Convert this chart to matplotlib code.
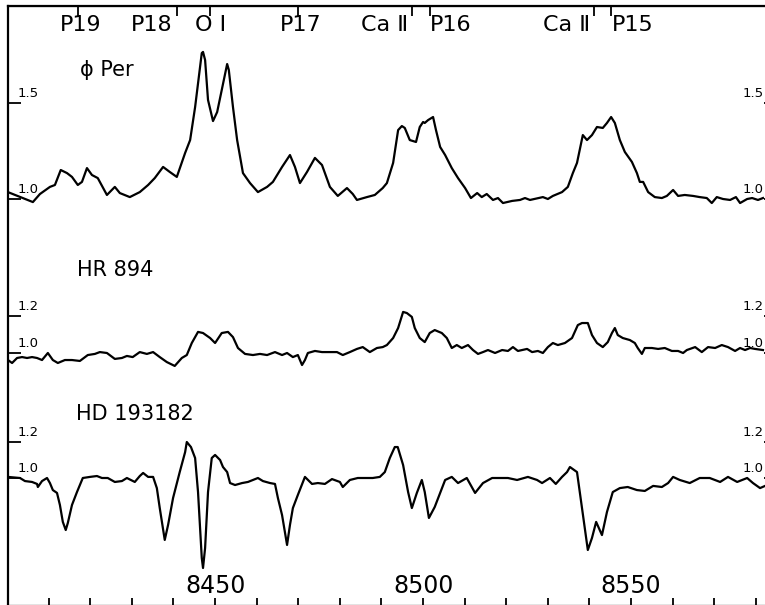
import matplotlib.pyplot as plt
import numpy as np

phi_wl = [8400.2, 8406.2, 8407.9, 8410.3, 8411.5, 8412.9, 8414.4, 8415.6, 8417.0, 8418.0,
          8419.2, 8420.4, 8421.8, 8424.0, 8425.9, 8427.1, 8429.5, 8431.9, 8433.9, 8435.5,
          8437.5, 8439.1, 8440.8, 8442.8, 8444.0, 8445.2, 8445.9, 8446.8, 8447.1, 8447.6,
          8448.3, 8449.5, 8450.5, 8451.6, 8452.9, 8453.3, 8454.3, 8455.3, 8456.7, 8458.4,
          8460.3, 8462.5, 8463.9, 8466.1, 8468.0, 8469.2, 8470.4, 8472.1, 8474.0, 8475.7,
          8477.6, 8479.5, 8481.7, 8483.1, 8484.1, 8486.5, 8488.4, 8490.3, 8491.3, 8492.8,
          8494.0, 8494.9, 8495.6, 8496.8, 8498.3, 8499.2, 8500.0, 8500.4, 8501.2, 8502.4,
          8503.1, 8504.1, 8505.3, 8506.9, 8508.4, 8510.1, 8511.5, 8513.0, 8514.1, 8515.3,
          8516.8, 8518.0, 8519.2, 8521.4, 8523.3, 8524.5, 8525.7, 8528.8, 8530.0, 8531.2,
          8533.4, 8534.8, 8536.0, 8537.0, 8538.4, 8539.4, 8540.6, 8541.8, 8543.2, 8544.2,
          8545.2, 8546.1, 8547.3, 8548.5, 8550.2, 8551.4, 8552.1, 8552.9, 8554.1, 8555.7,
          8557.4, 8558.6, 8560.1, 8561.3, 8562.9, 8564.9, 8566.5, 8568.2, 8569.4, 8570.6,
          8572.1, 8573.8, 8575.2, 8576.2, 8577.9, 8579.1, 8580.5, 8581.7]
phi_flux = [1.036, 0.984, 1.026, 1.063, 1.073, 1.151, 1.135, 1.115, 1.073, 1.089,
            1.161, 1.125, 1.109, 1.021, 1.063, 1.031, 1.010, 1.036, 1.073, 1.109,
            1.167, 1.141, 1.115, 1.240, 1.307, 1.479, 1.604, 1.760, 1.766, 1.724,
            1.516, 1.406, 1.453, 1.568, 1.703, 1.672, 1.479, 1.307, 1.135, 1.083,
            1.036, 1.063, 1.089, 1.167, 1.229, 1.167, 1.083, 1.141, 1.214, 1.177,
            1.063, 1.016, 1.057, 1.026, 0.995, 1.010, 1.021, 1.057, 1.083, 1.188,
            1.359, 1.380, 1.370, 1.307, 1.297, 1.375, 1.401, 1.396, 1.411, 1.427,
            1.359, 1.271, 1.229, 1.161, 1.109, 1.057, 1.005, 1.031, 1.010, 1.026,
            0.995, 1.005, 0.979, 0.990, 0.995, 1.005, 0.995, 1.010, 1.000, 1.016,
            1.036, 1.063, 1.135, 1.188, 1.333, 1.307, 1.333, 1.375, 1.370, 1.396,
            1.427, 1.396, 1.307, 1.245, 1.193, 1.135, 1.089, 1.089, 1.036, 1.010,
            1.005, 1.016, 1.047, 1.016, 1.021, 1.016, 1.010, 1.005, 0.979, 1.010,
            1.000, 0.995, 1.010, 0.979, 1.000, 1.005, 0.995, 1.005]

hr_wl = [8400.2, 8401.2, 8402.4, 8403.6, 8404.8, 8406.0, 8407.2, 8408.4, 8409.8, 8411.0,
         8412.2, 8413.9, 8415.6, 8417.5, 8419.4, 8421.1, 8422.3, 8424.0, 8425.9, 8427.6,
         8428.8, 8430.2, 8431.9, 8433.6, 8435.1, 8436.7, 8438.4, 8440.3, 8442.0, 8443.2,
         8444.4, 8445.9, 8447.1, 8448.8, 8450.0, 8451.6, 8453.1, 8454.3, 8455.5, 8457.2,
         8459.1, 8460.8, 8462.5, 8464.4, 8466.1, 8467.3, 8468.7, 8469.9, 8470.9, 8471.6,
         8472.3, 8474.0, 8475.7, 8477.6, 8479.3, 8480.7, 8482.4, 8484.1, 8485.5, 8487.2,
         8488.9, 8490.3, 8491.3, 8492.8, 8494.0, 8495.2, 8496.1, 8497.3, 8498.0, 8499.2,
         8500.4, 8501.6, 8502.8, 8504.5, 8505.7, 8506.9, 8508.1, 8509.3, 8510.8, 8512.0,
         8513.2, 8514.4, 8515.6, 8517.3, 8519.0, 8520.4, 8521.6, 8522.8, 8525.0, 8526.2,
         8527.6, 8528.8, 8530.0, 8531.2, 8532.4, 8534.1, 8535.8, 8537.2, 8538.2, 8539.6,
         8540.6, 8541.8, 8543.2, 8544.4, 8545.4, 8546.1, 8546.8, 8548.0, 8549.7, 8550.9,
         8551.6, 8552.6, 8553.3, 8555.0, 8556.5, 8558.1, 8559.8, 8561.3, 8562.5, 8563.4,
         8565.4, 8567.0, 8568.5, 8570.2, 8571.8, 8573.3, 8575.0, 8576.2, 8577.4, 8578.6,
         8579.8, 8581.7]
hr_flux = [0.962, 0.946, 0.973, 0.978, 0.973, 0.978, 0.973, 0.962, 1.000, 0.962,
           0.946, 0.962, 0.962, 0.957, 0.989, 0.995, 1.005, 1.000, 0.968, 0.973,
           0.984, 0.978, 1.005, 0.995, 1.005, 0.978, 0.951, 0.930, 0.973, 0.989,
           1.054, 1.114, 1.108, 1.081, 1.054, 1.108, 1.114, 1.086, 1.027, 0.995,
           0.989, 0.995, 0.989, 1.005, 0.989, 1.000, 0.978, 0.989, 0.935, 0.962,
           1.000, 1.011, 1.005, 1.005, 1.005, 0.989, 1.005, 1.022, 1.032, 1.005,
           1.027, 1.032, 1.043, 1.081, 1.135, 1.222, 1.216, 1.195, 1.135, 1.081,
           1.059, 1.108, 1.124, 1.108, 1.081, 1.027, 1.043, 1.027, 1.043, 1.016,
           0.995, 1.005, 1.016, 1.000, 1.016, 1.011, 1.032, 1.011, 1.022, 1.005,
           1.011, 1.000, 1.032, 1.054, 1.043, 1.054, 1.081, 1.151, 1.162, 1.162,
           1.097, 1.054, 1.032, 1.059, 1.108, 1.135, 1.097, 1.081, 1.070, 1.054,
           1.027, 0.995, 1.027, 1.027, 1.022, 1.027, 1.011, 1.011, 1.000, 1.016,
           1.032, 1.005, 1.032, 1.027, 1.043, 1.032, 1.011, 1.027, 1.016, 1.027,
           1.022, 1.016]

hd_wl = [8400.2, 8403.1, 8404.3, 8406.0, 8407.2, 8407.4, 8408.4, 8409.6, 8410.3, 8411.0,
         8412.0, 8412.7, 8413.4, 8414.1, 8414.6, 8415.6, 8416.8, 8418.2, 8419.9, 8421.6,
         8422.8, 8424.2, 8425.9, 8427.6, 8428.8, 8430.7, 8431.9, 8432.7, 8433.9, 8435.1,
         8436.0, 8436.7, 8437.9, 8438.7, 8439.9, 8441.5, 8442.8, 8443.2, 8444.2, 8445.2,
         8445.9, 8446.8, 8447.1, 8447.6, 8448.3, 8449.2, 8450.0, 8451.2, 8451.9, 8452.9,
         8453.6, 8454.8, 8456.5, 8457.9, 8459.1, 8460.3, 8461.5, 8463.2, 8464.4, 8465.1,
         8466.1, 8467.3, 8468.0, 8468.7, 8469.9, 8471.6, 8473.3, 8474.7, 8476.4, 8478.1,
         8480.0, 8480.7, 8482.4, 8484.3, 8486.5, 8487.9, 8489.6, 8490.8, 8492.0, 8493.2,
         8493.9, 8495.2, 8496.4, 8497.3, 8498.5, 8499.7, 8500.4, 8501.4, 8502.8, 8504.1,
         8505.3, 8506.9, 8508.4, 8510.5, 8512.5, 8514.4, 8516.6, 8518.5, 8520.4, 8522.6,
         8525.2, 8527.4, 8528.6, 8530.5, 8531.9, 8533.4, 8534.6, 8535.3, 8537.0, 8538.2,
         8539.6, 8540.6, 8541.6, 8543.0, 8544.2, 8545.6, 8547.3, 8549.2, 8551.4, 8553.3,
         8555.3, 8557.4, 8558.9, 8560.1, 8561.7, 8564.1, 8566.5, 8568.9, 8571.4, 8573.3,
         8575.5, 8577.9, 8579.3, 8581.0, 8582.2]
hd_flux = [1.006, 1.000, 0.983, 0.978, 0.967, 0.950, 0.983, 1.000, 0.972, 0.933,
           0.917, 0.850, 0.756, 0.711, 0.750, 0.850, 0.922, 1.000, 1.006, 1.011,
           1.000, 1.000, 0.978, 0.983, 1.000, 0.978, 1.011, 1.028, 1.006, 1.006,
           0.944, 0.833, 0.656, 0.739, 0.889, 1.033, 1.144, 1.200, 1.172, 1.111,
           0.922, 0.556, 0.500, 0.611, 0.922, 1.111, 1.128, 1.100, 1.061, 1.033,
           0.972, 0.961, 0.972, 0.978, 0.989, 1.000, 0.983, 0.972, 0.967, 0.889,
           0.794, 0.628, 0.739, 0.833, 0.906, 1.006, 0.967, 0.972, 0.967, 0.994,
           0.978, 0.950, 0.989, 1.000, 1.000, 1.000, 1.006, 1.033, 1.111, 1.172,
           1.172, 1.072, 0.922, 0.833, 0.917, 0.989, 0.922, 0.778, 0.839, 0.917,
           0.989, 1.006, 0.972, 1.000, 0.917, 0.972, 1.000, 1.000, 1.000, 0.989,
           1.006, 0.989, 0.972, 1.000, 0.967, 1.006, 1.033, 1.061, 1.033, 0.833,
           0.600, 0.667, 0.756, 0.683, 0.811, 0.922, 0.944, 0.950, 0.933, 0.928,
           0.956, 0.950, 0.972, 1.006, 0.989, 0.972, 1.000, 1.000, 0.978, 1.006,
           0.978, 1.000, 0.972, 0.944, 0.956]

star_names = ['ϕ Per', 'HR 894', 'HD 193182']
scale_ticks = [[1.0, 1.5], [1.0, 1.2], [1.0, 1.2]]

line_ids = ['P19', 'P18', 'O Ⅰ', 'P17', 'Ca Ⅱ', 'P16', 'Ca Ⅱ', 'P15']
line_wl = [8417.0, 8440.8, 8448.8, 8469.9, 8497.3, 8501.7, 8541.2, 8545.2]
labelled_wl = [8450, 8500, 8550]

# layout, in pixels of the 765x605 picture
W, H = 765, 605
frame_left, frame_right, frame_top, frame_bot = 7.5, 776, 6, 606
cont_px = [199, 353, 478]      # where flux 1.0 sits for each star
px_per_unit = [192, 185, 180]
name_px = [(80, 70), (77, 270), (76, 414)]
id_ha = ['center', 'right', 'center', 'center', 'right', 'left', 'right', 'left']
id_dx = [3, -4, 0, 3, -4, 0, -4, 1]

fig = plt.figure(figsize=(W / 100, H / 100), dpi=100)
rect = [frame_left / W, (H - frame_bot) / H,
        (frame_right - frame_left) / W, (frame_bot - frame_top) / H]
ax = fig.add_axes(rect)
ax.set_xlim(8400.1, 8400.1 + (frame_right - frame_left) / 4.16)
ax.set_ylim(0, 1)
ax.set_yticks([])
for s in ax.spines.values():
    s.set_linewidth(1.6)
ax.set_xticks(np.arange(8410, 8590, 10))
ax.tick_params(axis='x', direction='in', length=6, width=1.3, labelbottom=False)
for v in labelled_wl:
    ax.text(v, (frame_bot - 586) / (frame_bot - frame_top), str(v), transform=ax.get_xaxis_transform(),
            ha='center', va='center', fontsize=17)

top = ax.secondary_xaxis('top')
top.set_xticks(line_wl)
top.tick_params(direction='in', length=7, width=1.3, labeltop=False)
for wl, lab, ha, dx in zip(line_wl, line_ids, id_ha, id_dx):
    ax.annotate(lab, (wl, (frame_bot - 25) / (frame_bot - frame_top)), xycoords=ax.get_xaxis_transform(),
                xytext=(dx * 0.72, 0), textcoords='offset points', ha=ha, va='center', fontsize=16)

spectra = [(phi_wl, phi_flux), (hr_wl, hr_flux), (hd_wl, hd_flux)]
for i, (wl, flux) in enumerate(spectra):
    a = fig.add_axes(rect, sharex=ax, facecolor='none')
    c, s = cont_px[i], px_per_unit[i]
    a.set_ylim(1 - (frame_bot - c) / s, 1 + (c - frame_top) / s)
    for sp in a.spines.values():
        sp.set_visible(False)
    a.tick_params(axis='x', bottom=False, labelbottom=False)
    a.set_yticks(scale_ticks[i])
    a.tick_params(axis='y', left=True, right=True, direction='in', length=9, width=1.3,
                  labelleft=False, labelright=False)
    a.plot(wl, flux, color='black', lw=1.6)
    for t in scale_ticks[i]:
        a.annotate(f'{t:.1f}', (0.0125, t), xycoords=a.get_yaxis_transform(),
                   xytext=(0, 2.5), textcoords='offset points', ha='left', va='bottom', fontsize=9.5)
        a.annotate(f'{t:.1f}', ((W - 1 - frame_left) / (frame_right - frame_left), t),
                   xycoords=a.get_yaxis_transform(),
                   xytext=(0, 2.5), textcoords='offset points', ha='right', va='bottom', fontsize=9.5)
    fig.text(name_px[i][0] / W, 1 - name_px[i][1] / H, star_names[i], ha='left', va='center', fontsize=15)

fig.savefig('out.png', dpi=100)
